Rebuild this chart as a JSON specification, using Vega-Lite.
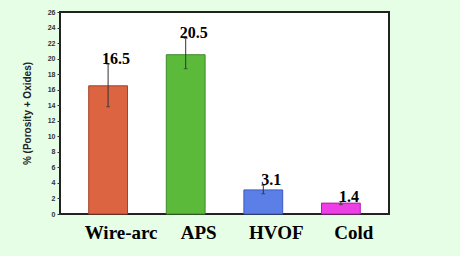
{
  "$schema": "https://vega.github.io/schema/vega-lite/v6.json",
  "width": 329,
  "height": 202,
  "autosize": {"type": "none"},
  "padding": {"left": 60, "top": 12, "right": 71, "bottom": 42},
  "background": "#e6fde6",
  "config": {
    "view": {"fill": "white", "stroke": "#222222", "strokeWidth": 2},
    "axis": {"grid": false, "domain": false, "labelOverlap": false}
  },
  "data": {
    "values": [
      {"process": "Wire-arc", "value": 16.5, "low": 13.8, "high": 19.3, "label": "16.5"},
      {"process": "APS", "value": 20.5, "low": 18.7, "high": 22.6, "label": "20.5"},
      {"process": "HVOF", "value": 3.1, "low": 2.6, "high": 3.7, "label": "3.1"},
      {"process": "Cold", "value": 1.4, "low": 1.2, "high": 1.6, "label": "1.4"}
    ]
  },
  "encoding": {
    "x": {
      "field": "process",
      "type": "nominal",
      "sort": ["Wire-arc", "APS", "HVOF", "Cold"],
      "scale": {"paddingInner": 0.5, "paddingOuter": 0.37},
      "title": null,
      "axis": {
        "labels": false,
        "ticks": false,
        "domain": false
      }
    },
    "y": {
      "field": "value",
      "type": "quantitative",
      "scale": {"domain": [0, 26], "nice": false},
      "title": "% (Porosity + Oxides)",
      "axis": {
        "values": [0, 2, 4, 6, 8, 10, 12, 14, 16, 18, 20, 22, 24, 26],
        "labelOverlap": false,
        "labelFlush": false,
        "domain": false,
        "titleFont": "Liberation Sans",
        "titleFontWeight": "bold",
        "titleFontSize": 10,
        "titleColor": "#222222",
        "titlePadding": 15,
        "labelFont": "Liberation Sans",
        "labelFontWeight": "bold",
        "labelFontSize": 7,
        "labelColor": "#333333",
        "labelPadding": 2,
        "tickSize": 3,
        "tickColor": "#333333"
      }
    }
  },
  "layer": [
    {
      "mark": {"type": "bar", "strokeWidth": 1},
      "encoding": {
        "fill": {
          "field": "process",
          "type": "nominal",
          "scale": {
            "domain": ["Wire-arc", "APS", "HVOF", "Cold"],
            "range": ["#dc6440", "#5cba3a", "#5b7fe6", "#ee3ee6"]
          },
          "legend": null
        },
        "stroke": {
          "field": "process",
          "type": "nominal",
          "scale": {
            "domain": ["Wire-arc", "APS", "HVOF", "Cold"],
            "range": ["#a8402a", "#3a8a28", "#3a58c0", "#b020a8"]
          },
          "legend": null
        }
      }
    },
    {
      "mark": {"type": "rule", "color": "#333333", "strokeWidth": 1},
      "encoding": {
        "y": {"field": "low", "type": "quantitative"},
        "y2": {"field": "high"}
      }
    },
    {
      "mark": {"type": "tick", "color": "#333333", "size": 4, "thickness": 1},
      "encoding": {
        "y": {"field": "low", "type": "quantitative"}
      }
    },
    {
      "mark": {"type": "tick", "color": "#333333", "size": 4, "thickness": 1},
      "encoding": {
        "y": {"field": "high", "type": "quantitative"}
      }
    },
    {
      "mark": {
        "type": "text",
        "font": "Liberation Serif",
        "fontWeight": "bold",
        "fontSize": 16,
        "baseline": "alphabetic",
        "align": "center",
        "dx": 8,
        "color": "#000000"
      },
      "encoding": {
        "y": {"field": "high", "type": "quantitative"},
        "text": {"field": "label", "type": "nominal"}
      }
    },
    {
      "mark": {
        "type": "text",
        "font": "Liberation Serif",
        "fontWeight": "bold",
        "fontSize": 19,
        "baseline": "alphabetic",
        "align": "center",
        "dx": 13,
        "dy": 25,
        "clip": false,
        "color": "#000000"
      },
      "encoding": {
        "y": {"datum": 0},
        "text": {"field": "process", "type": "nominal"}
      }
    }
  ]
}
